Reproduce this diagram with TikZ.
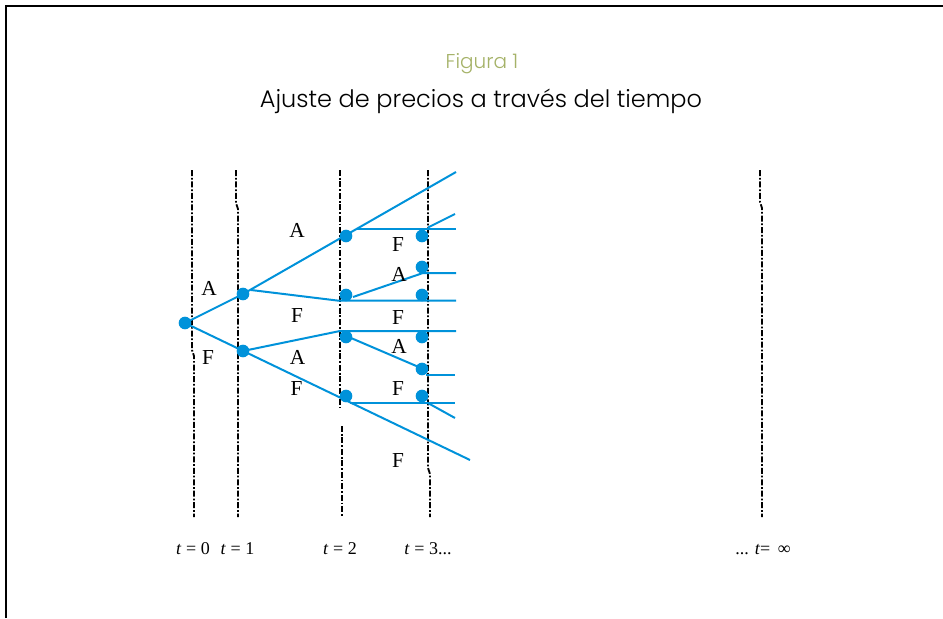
\documentclass[tikz,border=0pt]{standalone}
\usepackage{fontspec}
\setmainfont{Liberation Serif}
\newfontfamily\titlefont{Poppins Light}
\definecolor{treeblue}{RGB}{0,146,218}
\definecolor{figgreen}{RGB}{165,178,104}
\begin{document}
\begin{tikzpicture}[x=0.75pt,y=-0.75pt,
  dot/.style={circle,fill=treeblue,inner sep=0pt,minimum size=9.5pt},
  branch/.style={draw=treeblue,line width=1.5pt},
  timeline/.style={draw=black,line width=1.35pt,dash pattern=on 4.5pt off 1.4pt on 1.3pt off 1.4pt},
  lab/.style={font=\fontsize{16}{18}\selectfont,inner sep=0pt,anchor=center},
  tlab/.style={font=\fontsize{13.5}{15}\selectfont,inner sep=0pt,anchor=base},
  frameline/.style={line width=1.5pt}]
\useasboundingbox (0,0) rectangle (943,618);
% frame
\draw[frameline] (5.7,618) -- (5.7,6) -- (943,6);
% titles
\node[anchor=base,inner sep=0pt,text=figgreen,font=\titlefont\fontsize{15}{17}\selectfont] (fig) at (482,68) {Figura 1};
\node[anchor=base,inner sep=0pt,font=\titlefont\fontsize{18}{20}\selectfont] (title) at (481,107) {Ajuste de precios a través del tiempo};
% time lines
\draw[timeline] (192,170) -- (192,350) -- (194,356) -- (194,517);
\draw[timeline] (236,170) -- (236,203) -- (238,209) -- (238,517);
\draw[timeline] (340,170) -- (340,408);
\draw[timeline] (342,426) -- (342,517);
\draw[timeline] (428,170) -- (428,468) -- (430,474) -- (430,517);
\draw[timeline] (760,170) -- (760,202) -- (762,208) -- (762,517);
% junction coordinates
\coordinate (e1) at (456,172);
\coordinate (e2) at (470,460);
\coordinate (p1) at (251,290);
\coordinate (p2) at (337,300.5);
\coordinate (p3) at (456,300.5);
\coordinate (p4) at (353,297);
\coordinate (p5) at (423,273);
\coordinate (p6) at (456,273);
\coordinate (p7) at (356,229);
\coordinate (p8) at (456,229);
\coordinate (p9) at (428,227.5);
\coordinate (p10) at (455,214);
\coordinate (p11) at (340,331);
\coordinate (p12) at (456,331);
\coordinate (p13) at (351,338);
\coordinate (p14) at (421,368);
\coordinate (p15) at (426,375);
\coordinate (p16) at (455,375);
\coordinate (p17) at (350,402.5);
\coordinate (p18) at (455,402.5);
\coordinate (p19) at (427,402.5);
\coordinate (p20) at (455,418);
% dots
\node[dot] (n0) at (185,323) {};
\node[dot] (n1a) at (243,294) {};
\node[dot] (n1b) at (243,351) {};
\node[dot] (n2a) at (346,236) {};
\node[dot] (n2b) at (346,295) {};
\node[dot] (n2c) at (346,337) {};
\node[dot] (n2d) at (346,396) {};
\node[dot] (n3a) at (422,236) {};
\node[dot] (n3b) at (422,267) {};
\node[dot] (n3c) at (422,295) {};
\node[dot] (n3d) at (422,337) {};
\node[dot] (n3e) at (422,369) {};
\node[dot] (n3f) at (422,396) {};
% branches
\draw[branch] (n0.center) -- (n1a.center);
\draw[branch] (n1a.center) -- (e1);
\draw[branch] (n0.center) -- (e2);
\draw[branch] (p1) -- (p2) -- (p3);
\draw[branch] (p4) -- (p5) -- (p6);
\draw[branch] (p7) -- (p8);
\draw[branch] (p9) -- (p10);
\draw[branch] (n1b.center) -- (p11) -- (p12);
\draw[branch] (p13) -- (p14);
\draw[branch] (p15) -- (p16);
\draw[branch] (p17) -- (p18);
\draw[branch] (p19) -- (p20);
% branch labels
\node[lab] (l1) at (209,288) {A};
\node[lab] (l2) at (208,358) {F};
\node[lab] (l3) at (297,230) {A};
\node[lab] (l4) at (297,315.5) {F};
\node[lab] (l5) at (297.5,357.5) {A};
\node[lab] (l6) at (296.5,389) {F};
\node[lab] (l7) at (398,244.5) {F};
\node[lab] (l8) at (399,274.5) {A};
\node[lab] (l9) at (398,317.5) {F};
\node[lab] (l10) at (399,346.5) {A};
\node[lab] (l11) at (398,389) {F};
\node[lab] (l12) at (398,461) {F};
% time labels
\node[tlab] (t0) at (193,554) {\textit{t} = 0};
\node[tlab] (t1) at (237.5,554) {\textit{t} = 1};
\node[tlab] (t2) at (340,554) {\textit{t} = 2};
\node[tlab] (t3) at (428,554) {\textit{t} = 3...};
\node[tlab] (tinf) at (763,554) {... \textit{t}=\, ∞};
\end{tikzpicture}
\end{document}
